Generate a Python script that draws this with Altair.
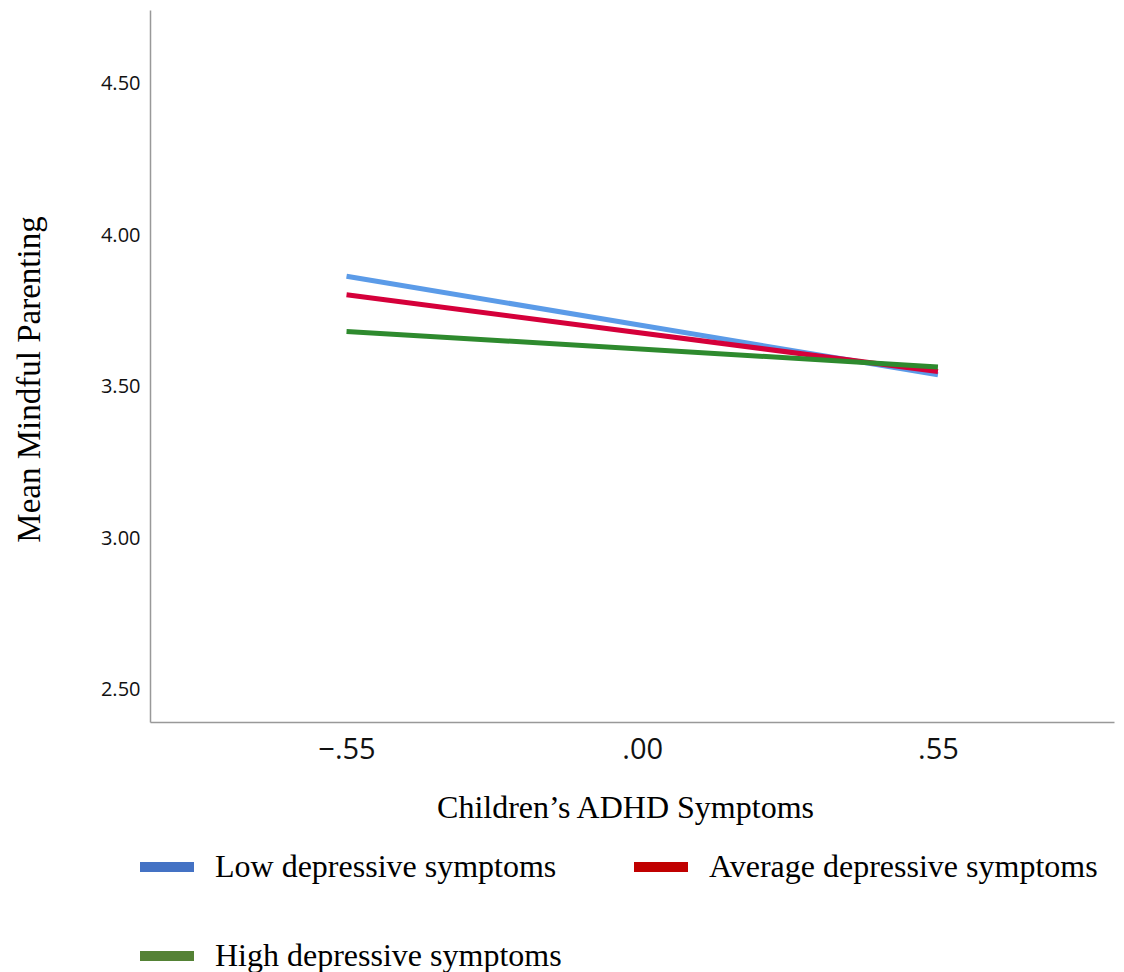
import altair as alt
import pandas as pd

# ---- data ----
x_levels = [-0.55, 0.55]
series_names = ["Low depressive symptoms", "Average depressive symptoms", "High depressive symptoms"]
low_vals = [3.864, 3.539]
avg_vals = [3.803, 3.550]
high_vals = [3.682, 3.565]
x_ticks = [-0.55, 0.0, 0.55]
y_ticks = [2.5, 3.0, 3.5, 4.0, 4.5]

line_colors = ["#5b9be8", "#d5003a", "#2e8a2e"]
legend_colors = ["#4472c4", "#c00000", "#548235"]

rows = []
for name, vals in zip(series_names, [low_vals, avg_vals, high_vals]):
    for xv, yv in zip(x_levels, vals):
        rows.append({"adhd": xv, "mp": yv, "group": name})
df = pd.DataFrame(rows)

x_enc = alt.X(
    "adhd:Q",
    scale=alt.Scale(domain=[-0.9155, 0.8774], nice=False, zero=False),
    axis=alt.Axis(
        values=x_ticks,
        labelExpr="replace(format(datum.value, '.2f'), '0.', '.')",
        title="Children\u2019s ADHD Symptoms",
        grid=False, ticks=False, tickSize=0,
        labelFont="Open Sans", labelFontSize=29, labelColor="#111111",
        labelPadding=13, labelBaseline="top",
        titleFont="Liberation Serif", titleFontSize=32, titleFontWeight="normal",
        titleColor="#000000", titleX=475, titleY=95, titleBaseline="alphabetic",
        titleAlign="center",
        domainColor="#999999", domainWidth=1.5,
    ),
)
y_enc = alt.Y(
    "mp:Q",
    scale=alt.Scale(domain=[2.394, 4.742], nice=False, zero=False),
    axis=alt.Axis(
        values=y_ticks,
        format=".2f",
        title="Mean Mindful Parenting",
        grid=False, ticks=False, tickSize=0,
        labelFont="Open Sans", labelFontSize=20, labelColor="#111111",
        labelPadding=10,
        titleFont="Liberation Serif", titleFontSize=33, titleFontWeight="normal",
        titleColor="#000000", titleX=-111, titleY=369, titleBaseline="alphabetic",
        titleAlign="center", titleAngle=270,
        domainColor="#999999", domainWidth=1.5,
    ),
)

lines = alt.Chart(df).mark_line(strokeWidth=5, strokeCap="butt").encode(
    x=x_enc,
    y=y_enc,
    color=alt.Color(
        "group:N",
        sort=series_names,
        scale=alt.Scale(domain=series_names, range=line_colors),
        legend=None,
    ),
    order=alt.Order("adhd:Q"),
)

legend_layer = alt.Chart(df).mark_point(filled=True, opacity=0).encode(
    x="adhd:Q",
    y="mp:Q",
    color=alt.Color(
        "group:N",
        sort=series_names,
        scale=alt.Scale(domain=series_names, range=legend_colors),
        legend=alt.Legend(
            title=None,
            orient="none",
            legendX=-10,
            legendY=830,
            direction="horizontal",
            columns=2,
            columnPadding=72,
            rowPadding=46,
            padding=0,
            symbolType="M-1,-0.185H1V0.185H-1Z",
            symbolSize=2916,
            symbolStrokeWidth=0,
            symbolOpacity=1,
            labelFont="Liberation Serif",
            labelFontSize=32,
            labelColor="#000000",
            labelOffset=21,
            labelLimit=600,
        ),
    ),
)

chart = (
    alt.layer(lines, legend_layer)
    .resolve_scale(color="independent")
    .properties(
        width=964,
        height=712,
        autosize=alt.AutoSizeParams(type="none"),
        padding={"left": 142, "top": 2, "right": 2, "bottom": 258},
        background="#ffffff",
    )
    .configure_view(stroke=None)
)

chart.save("out.html", embed_options={"renderer": "svg", "actions": False})
